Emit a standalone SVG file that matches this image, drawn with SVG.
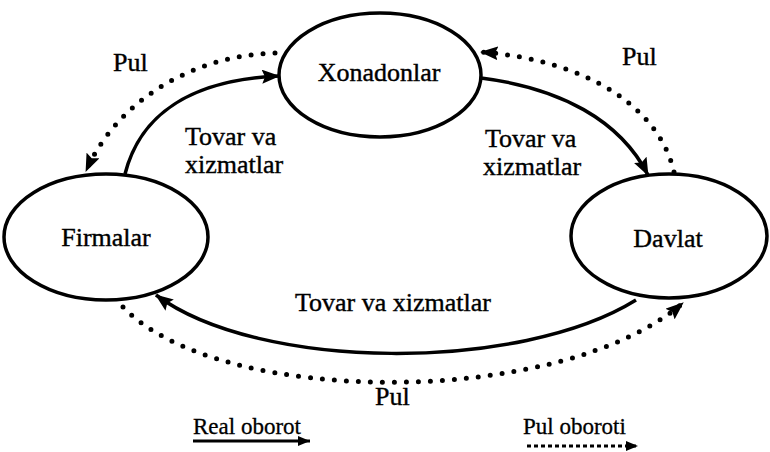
<svg xmlns="http://www.w3.org/2000/svg" width="770" height="452" viewBox="0 0 770 452">
<defs>
<style>
.node{fill:#fff;stroke:#000;stroke-width:3.5}
.lbl{font-size:26px;fill:#000;stroke:#000;stroke-width:0.4}
.leg{font-size:23px;fill:#000;stroke:#000;stroke-width:0.3}
.real{fill:none;stroke:#000;stroke-width:3.5}
.money{fill:none;stroke:#000;stroke-width:5;stroke-linecap:round;stroke-dasharray:0 12}
</style>
<marker id="ah" markerUnits="userSpaceOnUse" markerWidth="18" markerHeight="14" refX="17" refY="7" orient="auto">
<path d="M0,0 L18,7 L0,14 L3,7 z" fill="#000"/>
</marker>
<marker id="ahs" markerUnits="userSpaceOnUse" markerWidth="12" markerHeight="10" refX="12" refY="5" orient="auto">
<path d="M0,0 L12,5 L0,10 z" fill="#000"/>
</marker>
</defs>
<rect width="770" height="452" fill="#fff"/>
<g id="connectors">
<path class="real" d="M125,174 C140,115 190,80 279,76" marker-end="url(#ah)"/>
<path class="money" d="M275,53 C200,55 120,95 86,171" marker-end="url(#ah)"/>
<path class="real" d="M481,78 C560,88 620,120 648,175" marker-end="url(#ah)"/>
<path class="money" d="M674,172 C660,110 590,60 481,52" marker-end="url(#ah)"/>
<path class="real" d="M636,300 C520,372 260,372 156,295" marker-end="url(#ah)"/>
<path class="money" d="M123,307 C220,408 560,408 683,303" marker-end="url(#ah)"/>
</g>
<g font-family="'Liberation Serif', Tinos, 'DejaVu Serif', serif">
<g id="xonadonlar">
<ellipse class="node" cx="380" cy="75" rx="101" ry="62"/>
<text class="lbl" x="379" y="81" text-anchor="middle">Xonadonlar</text>
</g>
<g id="firmalar">
<ellipse class="node" cx="106" cy="237" rx="102" ry="63"/>
<text class="lbl" x="106" y="246" text-anchor="middle">Firmalar</text>
</g>
<g id="davlat">
<ellipse class="node" cx="669" cy="236" rx="98" ry="62"/>
<text class="lbl" x="668" y="247" text-anchor="middle">Davlat</text>
</g>
<g id="labels">
<text class="lbl" x="113" y="71">Pul</text>
<text class="lbl" x="622" y="65">Pul</text>
<text class="lbl" x="185" y="145">Tovar va</text>
<text class="lbl" x="185" y="173">xizmatlar</text>
<text class="lbl" x="485" y="147">Tovar va</text>
<text class="lbl" x="483" y="175">xizmatlar</text>
<text class="lbl" x="295" y="311">Tovar va xizmatlar</text>
<text class="lbl" x="375" y="405">Pul</text>
</g>
<g id="legend">
<text class="leg" x="193" y="434">Real oborot</text>
<line x1="193" y1="441" x2="310" y2="441" stroke="#000" stroke-width="3" marker-end="url(#ahs)"/>
<text class="leg" x="523" y="434">Pul oboroti</text>
<line x1="527" y1="446" x2="638" y2="446" stroke="#000" stroke-width="3" stroke-dasharray="4 3" marker-end="url(#ahs)"/>
</g>
</g>
</svg>
